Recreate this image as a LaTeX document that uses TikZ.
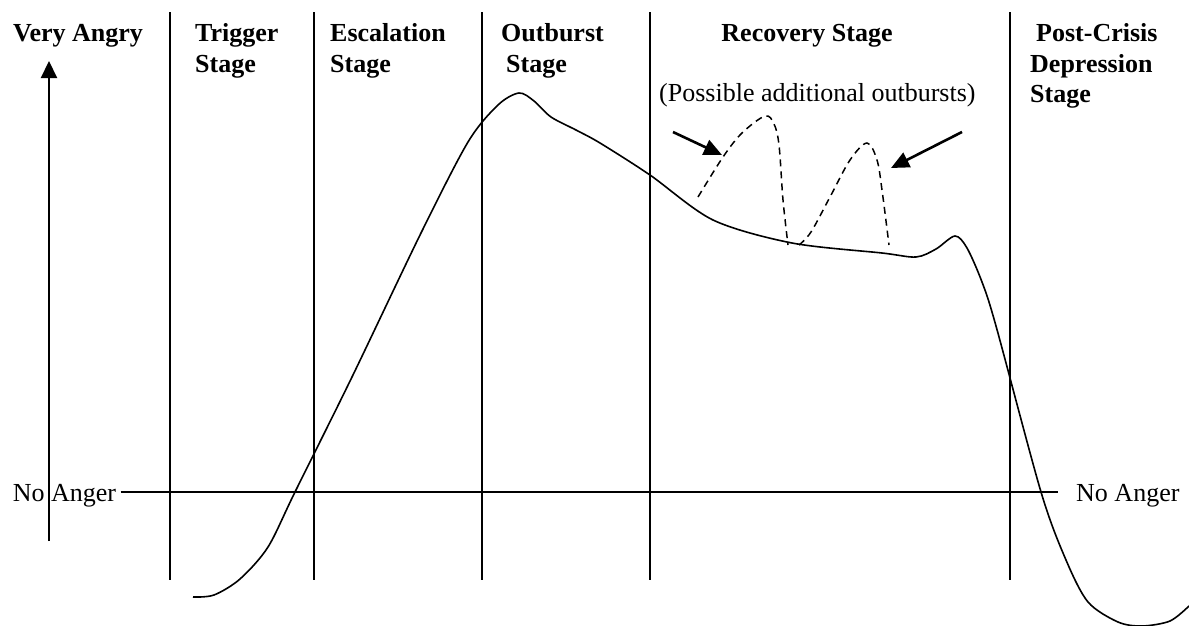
\documentclass[tikz,border=0pt]{standalone}
\usepackage{fontspec}
\setmainfont{Liberation Serif}
\usetikzlibrary{arrows.meta}
\begin{document}
\begin{tikzpicture}[x=1pt,y=-1pt,
  rule/.style={line width=1.7pt},
  curve/.style={line width=1.6pt, line join=round},
  dashcurve/.style={line width=1.5pt, dash pattern=on 7pt off 5pt},
  pointer/.style={line width=2.6pt, -{Triangle[length=18pt,width=16pt]}},
  head/.style={font=\fontsize{26}{30}\selectfont\bfseries, inner sep=0pt, anchor=base west},
  plain/.style={font=\fontsize{26}{30}\selectfont, inner sep=0pt, anchor=base west}]
\useasboundingbox (0,0) rectangle (1189,625);
% stage separators
\foreach \n/\x in {s1/170,s2/314,s3/482,s4/650,s5/1010}{
  \coordinate (\n t) at (\x,12);
  \coordinate (\n b) at (\x,580);
  \draw[rule] (\n t) -- (\n b);
}
% axis
\coordinate (axb) at (49,541);
\coordinate (axt) at (49,61);
\draw[line width=2.2pt, -{Triangle[length=17pt,width=16pt]}] (axb) -- (axt);
% no anger line
\node[plain] (nal) at (12.6,501) {No Anger};
\node[plain] (nar) at (1076,501) {No Anger};
\coordinate (hl) at (120.5,492);
\coordinate (hr) at (1058,492);
\draw[rule] (hl) -- (hr);
% headings
\node[head] (va) at (13,41) {Very Angry};
\node[head] (tr1) at (195,41) {Trigger};
\node[head] (tr2) at (195,72) {Stage};
\node[head] (es1) at (330,41) {Escalation};
\node[head] (es2) at (330,72) {Stage};
\node[head] (ou1) at (501,41) {Outburst};
\node[head] (ou2) at (506,72) {Stage};
\node[head, anchor=base] (rec) at (807,41) {Recovery Stage};
\node[head] (pc1) at (1036,41) {Post-Crisis};
\node[head] (pc2) at (1030,72) {Depression};
\node[head] (pc3) at (1030,102) {Stage};
\node[plain] (pos) at (659,101) {(Possible additional outbursts)};
% main curve
\draw[curve] plot[smooth, tension=0.5] coordinates {
 (193,597) (214,595) (240,579) (268,547) (295,492) (352,377)
 (421,233) (468,142) (498,105) (519,93) (534,101) (551,117)
 (576,130) (600,143) (650,175) (713,220) (792,243) (882,253)
 (916,257) (936,249) (955,236) (967,248) (982,282) (996,326)
 (1041,492) (1066,560) (1088,602) (1118,622) (1142,626) (1170,621) (1189,606)};
% dashed possible outbursts
\draw[dashcurve] plot[smooth, tension=0.55] coordinates {
 (698,197) (723,157) (742,133) (765,116) (774,124) (779,145) (783,200) (788,245)};
\draw[dashcurve] plot[smooth, tension=0.55] coordinates {
 (799,245) (811,232) (830,197) (850,160) (867,143) (877,160) (882,190) (889,245)};
% pointers
\coordinate (p1s) at (673,132);
\coordinate (p1e) at (722,155);
\coordinate (p2s) at (962,132);
\coordinate (p2e) at (891,168);
\draw[pointer] (p1s) -- (p1e);
\draw[pointer] (p2s) -- (p2e);
\end{tikzpicture}
\end{document}
